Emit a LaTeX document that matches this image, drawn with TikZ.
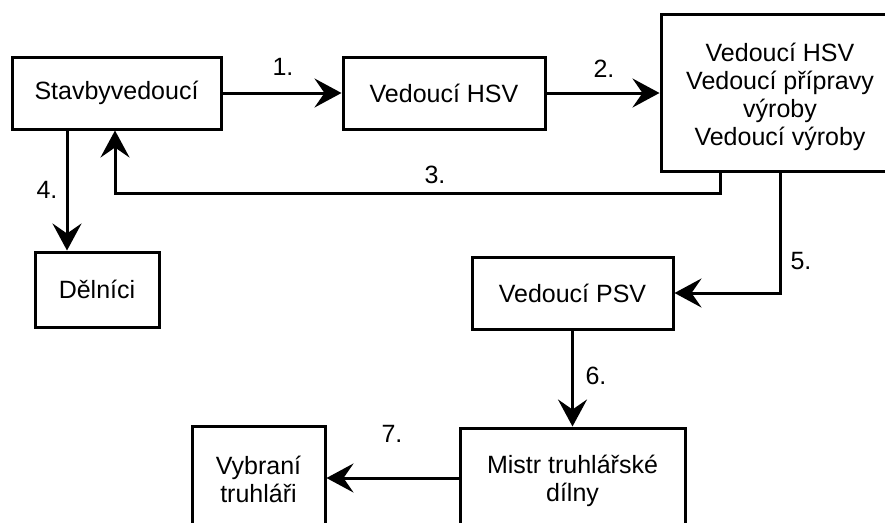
\documentclass[tikz,border=0pt]{standalone}
\usepackage{fontspec}
\setmainfont{Liberation Sans}
\usetikzlibrary{arrows.meta}
\begin{document}
\begin{tikzpicture}[x=1pt,y=-1pt,
  box/.style={draw, line width=3pt, inner sep=0pt, align=center,
    font=\fontsize{25}{28}\selectfont},
  lbl/.style={inner sep=0pt, font=\fontsize{25}{28}\selectfont},
  link/.style={line width=3pt, -{Stealth[length=27pt,width=29pt,inset=10pt]}},
]
\useasboundingbox (0,0) rectangle (885,522);
\clip (0,0) rectangle (885,522);

% boxes
\node[box, minimum width=209pt, minimum height=72pt] (stav) at (116.5,93) {Stavbyvedoucí};
\node[box, minimum width=202pt, minimum height=72pt] (hsv) at (444,93) {Vedoucí HSV};
\node[box, minimum width=238pt, minimum height=157pt] (lead) at (780,93)
  {\raisebox{-5pt}[\height][\depth]{\begin{tabular}{@{}c@{}}Vedoucí HSV\\Vedoucí přípravy\\výroby\\Vedoucí výroby\end{tabular}}};
\node[box, minimum width=124pt, minimum height=75pt] (del) at (97,289.5) {Dělníci};
\node[box, minimum width=201pt, minimum height=72pt] (psv) at (572.5,293) {Vedoucí PSV};
\node[box, minimum width=225pt, minimum height=106pt] (mistr) at (572.5,481) {Mistr truhlářské\\dílny};
\node[box, minimum width=133pt, minimum height=106pt] (vyb) at (258.5,479) {Vybraní\\truhláři};

% routing coordinates
\coordinate (c3) at (720,193);
\coordinate (c3b) at (115,193);
\coordinate (c4) at (67,0);
\coordinate (c5) at (780,0);
\coordinate (c7) at (0,478);

% connectors
\draw[link] (stav) -- (hsv);
\draw[link] (hsv) -- (lead);
\draw[link] (lead.south -| c3) -- (c3) -- (c3b) -- (stav.south -| c3b);
\draw[link] (stav.south -| c4) -- (del.north -| c4);
\draw[link] (lead.south -| c5) |- (psv.east);
\draw[link] (psv) -- (mistr);
\draw[link] (mistr.west |- c7) -- (vyb.east |- c7);

% step numbers
\node[lbl] (n1) at (283,67) {1.};
\node[lbl] (n2) at (604,69) {2.};
\node[lbl] (n3) at (435,175) {3.};
\node[lbl] (n4) at (47,190) {4.};
\node[lbl] (n5) at (801,261) {5.};
\node[lbl] (n6) at (596,376) {6.};
\node[lbl] (n7) at (392,434) {7.};
\end{tikzpicture}
\end{document}
